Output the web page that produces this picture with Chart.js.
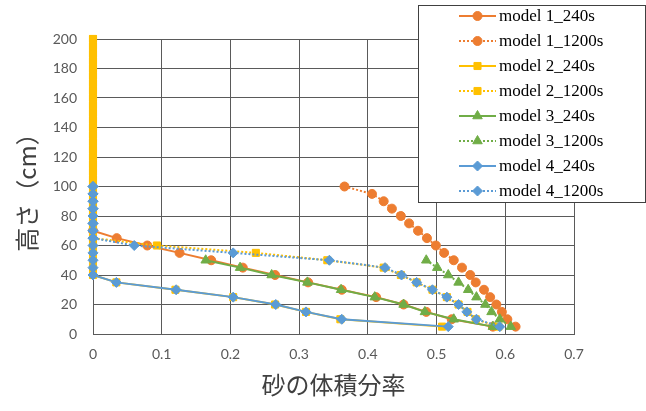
<!DOCTYPE html>
<html>
<head>
<meta charset="utf-8">
<script src="https://cdn.jsdelivr.net/npm/chart.js@4.4.1/dist/chart.umd.min.js"></script>
<style>
  body { margin: 0; background: #fff; }
  #wrap { width: 646px; height: 411px; position: relative; }
</style>
</head>
<body>
<div id="wrap"><canvas id="sandChart"></canvas></div>
<script>
// heights (cm) and sand volume fractions
const h_m1_240 = [70, 65, 60, 55, 50, 45, 40, 35, 30, 25, 20, 15, 10, 5];
const x_m1_240 = [0, 0.0345, 0.079, 0.126, 0.172, 0.218, 0.265, 0.313, 0.362, 0.412, 0.452, 0.485, 0.522, 0.582];

const h_m1_1200 = [100, 95, 90, 85, 80, 75, 70, 65, 60, 55, 50, 45, 40, 35, 30, 25, 20, 15, 10, 5];
const x_m1_1200 = [0.366, 0.406, 0.423, 0.435, 0.448, 0.46, 0.473, 0.486, 0.499, 0.511, 0.525, 0.537, 0.549, 0.557, 0.569, 0.578, 0.587, 0.595, 0.603, 0.615];

const h_m2_240 = [200, 195, 190, 185, 180, 175, 170, 165, 160, 155, 150, 145, 140, 135, 130, 125, 120, 115, 110, 105,
                  100, 95, 90, 85, 80, 75, 70, 65, 60, 55, 50, 45, 40, 35, 30, 25, 20, 15, 10, 5];
const x_m2_240 = [0, 0, 0, 0, 0, 0, 0, 0, 0, 0, 0, 0, 0, 0, 0, 0, 0, 0, 0, 0,
                  0, 0, 0, 0, 0, 0, 0, 0, 0, 0, 0, 0, 0, 0.034, 0.12, 0.204, 0.265, 0.31, 0.36, 0.508];

const h_m2_1200 = [200, 195, 190, 185, 180, 175, 170, 165, 160, 155, 150, 145, 140, 135, 130, 125, 120, 115, 110, 105,
                   100, 95, 90, 85, 80, 75, 70, 65, 60, 55, 50, 45, 40, 35, 30, 25, 20, 15, 10, 5];
const x_m2_1200 = [0, 0, 0, 0, 0, 0, 0, 0, 0, 0, 0, 0, 0, 0, 0, 0, 0, 0, 0, 0,
                   0, 0, 0, 0, 0, 0, 0, 0, 0.093, 0.237, 0.341, 0.423, 0.448, 0.471, 0.494, 0.515, 0.532, 0.545, 0.557, 0.59];

const h_m3_240 = [50, 45, 40, 35, 30, 25, 20, 15, 10, 5];
const x_m3_240 = [0.164, 0.214, 0.26, 0.312, 0.361, 0.41, 0.452, 0.483, 0.525, 0.582];

const h_m3_1200 = [50, 45, 40, 35, 30, 25, 20, 15, 10, 5];
const x_m3_1200 = [0.485, 0.501, 0.517, 0.532, 0.546, 0.558, 0.571, 0.58, 0.592, 0.608];

const h_m4_240 = [100, 95, 90, 85, 80, 75, 70, 65, 60, 55, 50, 45, 40, 35, 30, 25, 20, 15, 10, 5];
const x_m4_240 = [0, 0, 0, 0, 0, 0, 0, 0, 0, 0, 0, 0, 0, 0.034, 0.121, 0.204, 0.266, 0.31, 0.362, 0.517];

const h_m4_1200 = [100, 95, 90, 85, 80, 75, 70, 65, 60, 55, 50, 45, 40, 35, 30, 25, 20, 15, 10, 5];
const x_m4_1200 = [0, 0, 0, 0, 0, 0, 0, 0, 0.06, 0.204, 0.344, 0.425, 0.449, 0.471, 0.494, 0.515, 0.532, 0.544, 0.558, 0.592];

const xTicks = [0, 0.1, 0.2, 0.3, 0.4, 0.5, 0.6, 0.7];
const yTicks = [0, 20, 40, 60, 80, 100, 120, 140, 160, 180, 200];

const ORANGE = '#ED7D31', YELLOW = '#FFC000', GREEN = '#70AD47', BLUE = '#5B9BD5';

function series(label, xs, ys, color, style, radius, dotted, idx) {
    return {
        label: label,
        data: xs.map((x, i) => ({ x: x, y: ys[i] })),
        showLine: true,
        borderColor: color,
        backgroundColor: color,
        borderWidth: 2,
        borderDash: dotted ? [2, 2] : [],
        pointStyle: style,
        pointRadius: radius,
        pointHoverRadius: radius,
        pointBorderWidth: 1,
        pointBorderColor: color,
        pointBackgroundColor: color,
        clip: false,
        order: 10 - idx   // later series sit on top, like the original
    };
}

const datasets = [
    series('model 1_240s', x_m1_240, h_m1_240, ORANGE, 'circle', 4.5, false, 0),
    series('model 1_1200s', x_m1_1200, h_m1_1200, ORANGE, 'circle', 4.5, true, 1),
    series('model 2_240s', x_m2_240, h_m2_240, YELLOW, 'rect', 5, false, 2),
    series('model 2_1200s', x_m2_1200, h_m2_1200, YELLOW, 'rect', 5, true, 3),
    series('model 3_240s', x_m3_240, h_m3_240, GREEN, 'triangle', 5.5, false, 4),
    series('model 3_1200s', x_m3_1200, h_m3_1200, GREEN, 'triangle', 5.5, true, 5),
    series('model 4_240s', x_m4_240, h_m4_240, BLUE, 'rectRot', 5, false, 6),
    series('model 4_1200s', x_m4_1200, h_m4_1200, BLUE, 'rectRot', 5, true, 7)
];

// boxed legend drawn over the upper right corner
const legendBox = {
    id: 'legendBox',
    afterDraw(chart) {
        const ctx = chart.ctx;
        const w = 227, h = 197;
        const x0 = chart.width - w - 1, y0 = 5;
        ctx.save();
        ctx.fillStyle = '#ffffff';
        ctx.fillRect(x0, y0, w, h);
        ctx.strokeStyle = '#404040';
        ctx.lineWidth = 1;
        ctx.strokeRect(x0 + 0.5, y0 + 0.5, w, h);
        chart.data.datasets.forEach((ds, i) => {
            const y = y0 + 11 + i * 25;
            const lx1 = x0 + 41, lx2 = x0 + 78;
            ctx.strokeStyle = ds.borderColor;
            ctx.lineWidth = 2;
            ctx.setLineDash(ds.borderDash);
            ctx.beginPath();
            ctx.moveTo(lx1, y);
            ctx.lineTo(lx2, y);
            ctx.stroke();
            ctx.setLineDash([]);
            ctx.fillStyle = ds.backgroundColor;
            ctx.strokeStyle = ds.borderColor;
            ctx.lineWidth = 1;
            Chart.helpers.drawPoint(ctx, {
                pointStyle: ds.pointStyle, radius: ds.pointRadius, rotation: 0, borderWidth: 1
            }, (lx1 + lx2) / 2, y);
            ctx.fillStyle = '#000000';
            ctx.font = '17px "Liberation Serif", "Times New Roman", serif';
            ctx.textBaseline = 'middle';
            ctx.textAlign = 'left';
            ctx.fillText(ds.label, lx2 + 3, y + 1);
        });
        ctx.restore();
    }
};

const ctx = document.getElementById('sandChart').getContext('2d');
new Chart(ctx, {
    type: 'scatter',
    data: { datasets: datasets },
    options: {
        responsive: true,
        maintainAspectRatio: false,
        animation: false,
        layout: { padding: { top: 39, right: 72, left: 0, bottom: 0 } },
        plugins: {
            legend: { display: false },
            tooltip: { enabled: false }
        },
        scales: {
            x: {
                type: 'linear',
                min: 0,
                max: 0.7,
                afterBuildTicks: (scale) => { scale.ticks = xTicks.map(v => ({ value: v })); },
                afterFit: (scale) => { scale.height = 77; },
                ticks: {
                    color: '#595959',
                    padding: 12,
                    font: { family: 'Lato', size: 14 }
                },
                grid: { color: '#5a5a5a', lineWidth: 1, drawTicks: false },
                border: { color: '#5a5a5a' },
                title: {
                    display: true,
                    text: '砂の体積分率',
                    color: '#404040',
                    font: { family: '"Noto Sans CJK JP"', size: 24 },
                    padding: { top: 0, bottom: 12 }
                }
            },
            y: {
                type: 'linear',
                min: 0,
                max: 200,
                afterBuildTicks: (scale) => { scale.ticks = yTicks.map(v => ({ value: v })); },
                afterFit: (scale) => { scale.width = 93; },
                ticks: {
                    color: '#595959',
                    padding: 16,
                    font: { family: 'Lato', size: 14 }
                },
                grid: { color: '#5a5a5a', lineWidth: 1, drawTicks: false },
                border: { color: '#5a5a5a' },
                title: {
                    display: true,
                    text: '高さ（cm）',
                    color: '#404040',
                    font: { family: '"Noto Sans CJK JP"', size: 24 },
                    padding: { top: 12, bottom: 0 }
                }
            }
        }
    },
    plugins: [legendBox]
});
</script>
</body>
</html>
